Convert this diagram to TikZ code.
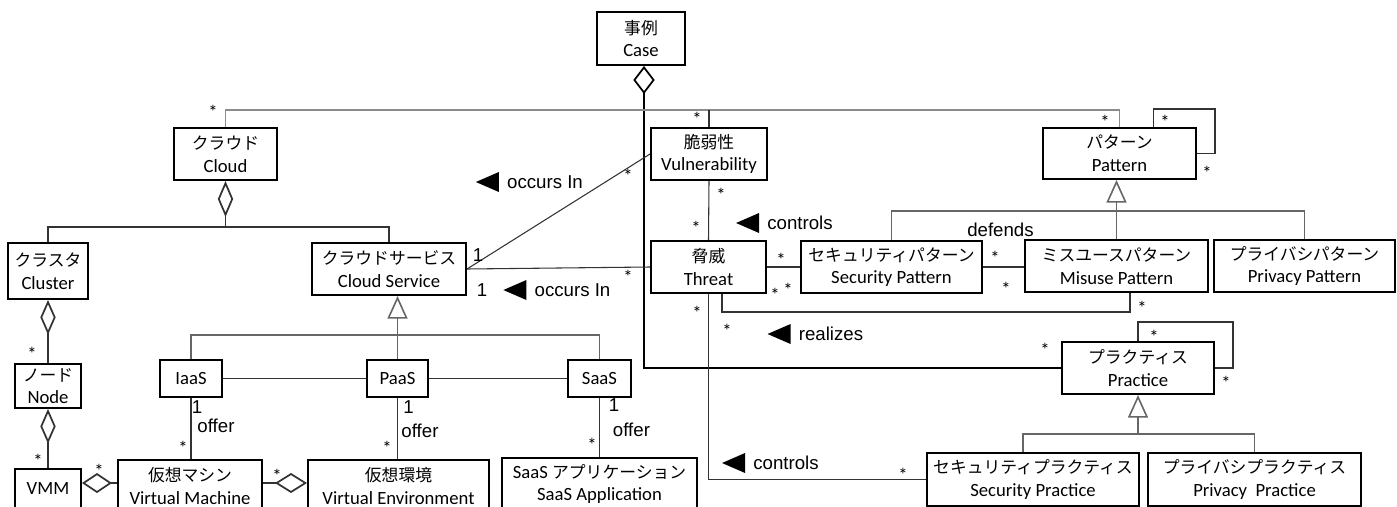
\documentclass[tikz,border=0pt]{standalone}
\usepackage{fontspec}
\setmainfont{Carlito}
\newfontfamily\jpfont{Noto Sans CJK JP}
\newfontfamily\arialfont{Liberation Sans}
\usetikzlibrary{arrows.meta,calc}

\newcommand{\jp}[1]{{\jpfont\fontsize{12.6}{17}\selectfont #1}}
\newcommand{\dirtri}[1]{\fill ($(#1.west)+(-8,-10)$) -- ++(0,20) -- ++(-23,-10) -- cycle;}

\tikzset{
  umlbox/.style 2 args={draw, line width=1.5pt, inner sep=0pt, align=center,
    minimum width=#1*0.75pt, minimum height=#2*0.75pt,
    font=\fontsize{14}{17}\selectfont},
  assoc/.style={draw=black!80, line width=0.8pt},
  rail/.style={draw=black!45, line width=0.9pt},
  genline/.style={draw=black!60, line width=0.8pt},
  gen/.style={genline, arrows={Triangle[open, length=17pt, width=15pt, line width=1.2pt]-}},
  agg/.style 2 args={assoc, arrows={Diamond[open, length=#1, width=#2, line width=1.3pt]-}},
  mult/.style={font=\fontsize{14}{14}\selectfont, inner sep=0pt, yshift=-2.3pt},
  role/.style={font=\arialfont\fontsize{14}{14}\selectfont, inner sep=0pt},
}

\begin{document}
\begin{tikzpicture}[x=0.75pt, y=-0.75pt]
\useasboundingbox (0,0) rectangle (1397,507);

% classes
\node[umlbox={88}{53}] (case) at (641,38.5) {\jp{事例}\\Case};
\node[umlbox={103}{52}] (cloud) at (225.5,154) {\jp{クラウド}\\Cloud};
\node[umlbox={80}{56}] (cluster) at (48,271) {\jp{クラスタ}\\Cluster};
\node[umlbox={154}{52}] (cloudsvc) at (389,269) {\jp{クラウドサービス}\\Cloud Service};
\node[umlbox={66}{44}] (hostnode) at (48,386) {\jp{ノード}\\Node};
\node[umlbox={66}{40}] (vmm) at (48,489) {VMM};
\node[umlbox={62}{37}] (iaas) at (191,378.5) {IaaS};
\node[umlbox={61}{37}] (paas) at (397.5,378.5) {PaaS};
\node[umlbox={63}{37}] (saas) at (599.5,378.5) {SaaS};
\node[umlbox={144}{52}] (vmachine) at (190,486) {\jp{仮想マシン}\\Virtual Machine};
\node[umlbox={181}{52}] (venv) at (398.5,486) {\jp{仮想環境}\\Virtual Environment};
\node[umlbox={195}{52}] (saasapp) at (599.5,484) {SaaS \jp{アプリケーション}\\SaaS Application};
\node[umlbox={116}{52}] (vuln) at (709,154) {\jp{脆弱性}\\Vulnerability};
\node[umlbox={115}{52}] (threat) at (708.5,267) {\jp{脅威}\\Threat};
\node[umlbox={181}{52}] (secpat) at (891.5,267) {\jp{セキュリティパターン}\\Security Pattern};
\node[umlbox={183}{52}] (misuse) at (1116.5,266) {\jp{ミスユースパターン}\\Misuse Pattern};
\node[umlbox={181}{52}] (privpat) at (1304.5,266) {\jp{プライバシパターン}\\Privacy Pattern};
\node[umlbox={153}{51}] (pattern) at (1119.5,153.5) {\jp{パターン}\\Pattern};
\node[umlbox={152}{52}] (practice) at (1138,368) {\jp{プラクティス}\\Practice};
\node[umlbox={212}{53}] (secprac) at (1033,479.5) {\jp{セキュリティプラクティス}\\Security Practice};
\node[umlbox={213}{53}] (privprac) at (1254.5,479.5) {\jp{プライバシプラクティス}\\Privacy~ Practice};

% bends
\coordinate (toprail) at (0,110);
\coordinate (patloop) at (1215,109);
\coordinate (patbus) at (1116.5,211);
\coordinate (realrail) at (1130,312);
\coordinate (cloudbus) at (225.5,227);
\coordinate (svcbus) at (397.5,335);
\coordinate (vmlink) at (0,483);
\coordinate (pracloop) at (1233,322);
\coordinate (pracbus) at (1138,434);

% aggregations
\draw[agg={21pt}{16pt}, draw=black] ($(case.south)+(3,0)$) |- (practice.west);
\draw[agg={27pt}{11.5pt}] (cloud.south) -- (cloudbus);
\draw[assoc] (cluster.north) |- (cloudbus) -| (cloudsvc.north);
\draw[agg={26pt}{11.5pt}] (cluster.south) -- (hostnode.north);
\draw[agg={26pt}{11.5pt}] (hostnode.south) -- (vmm.north);
\draw[agg={22.5pt}{15pt}] (vmm.east |- vmlink) -- (vmachine.west |- vmlink);
\draw[agg={24pt}{15pt}] (venv.west |- vmlink) -- (vmachine.east |- vmlink);

% generalizations
\draw[gen] (pattern.south -| misuse.north) -- (misuse.north);
\draw[genline] (secpat.north) |- (patbus) -| (privpat.north);
\draw[gen] (cloudsvc.south -| paas.north) -- (paas.north);
\draw[genline] (iaas.north) |- (svcbus) -| (saas.north);
\draw[gen] (practice.south) -- (pracbus);
\draw[genline] ($(secprac.north)+(-10,0)$) |- (pracbus) -| (privprac.north);

% associations
\draw[rail] (cloud.north) |- (toprail -| pattern.north) -- (pattern.north);
\draw[assoc] (vuln.north) -- (vuln.north |- toprail);
\draw[assoc] ($(pattern.north)+(34,0)$) |- (patloop) |- (pattern.east);
\draw[assoc] (practice.north) |- (pracloop) |- (practice.east);
\draw[assoc] (vuln.south) -- (threat.north);
\draw[assoc] (threat.east) -- (secpat.west);
\draw[assoc] (secpat.east) -- (secpat.east -| misuse.west);
\draw[assoc] ($(threat.south)+(13.5,0)$) |- (realrail) -- (realrail |- misuse.south);
\draw[assoc] (threat.south) |- (secprac.west);
\draw[assoc] (vuln.west) -- (cloudsvc.east);
\draw[assoc] (cloudsvc.east) -- (threat.west);
\draw[assoc] (iaas.east) -- (paas.west);
\draw[assoc] (paas.east) -- (saas.west);
\draw[assoc] (iaas.south) -- (iaas.south |- vmachine.north);
\draw[assoc] (paas.south) -- (paas.south |- venv.north);
\draw[assoc] (saas.south) -- (saasapp.north);

% multiplicities
\foreach \x/\y [count=\i] in {213/109, 697/116, 1105/119, 1165/119, 1207/170,
    1045/347, 721/192, 696/225, 781/257, 775/292, 788/287, 995/255, 1006/286,
    1142/305, 697/310, 727/328, 903/472, 1154/334, 1226/380, 628/173, 628/274,
    183/445, 387/445, 592/442, 32/351, 38/458, 99/468, 277/473}
  \node[mult] (star\i) at (\x,\y) {*};

% role names
\node[role] (one1) at (478,255) {1};
\node[role] (one2) at (482,290) {1};
\node[role] (occ1) at (545,182) {occurs In};
\node[role] (occ2) at (572.5,290) {occurs In};
\node[role] (ctl1) at (800,223) {controls};
\node[role] (ctl2) at (786,463) {controls};
\node[role] (real) at (831,334) {realizes};
\node[role] (defd) at (1000.5,230) {defends};
\node[role] (one3) at (197,407) {1};
\node[role] (offer1) at (216,426) {offer};
\node[role] (one4) at (408.5,407) {1};
\node[role] (offer2) at (420,431) {offer};
\node[role] (one5) at (614,405) {1};
\node[role] (offer3) at (631.5,430) {offer};
\dirtri{occ1} \dirtri{occ2} \dirtri{ctl1} \dirtri{ctl2} \dirtri{real}
\end{tikzpicture}
\end{document}
